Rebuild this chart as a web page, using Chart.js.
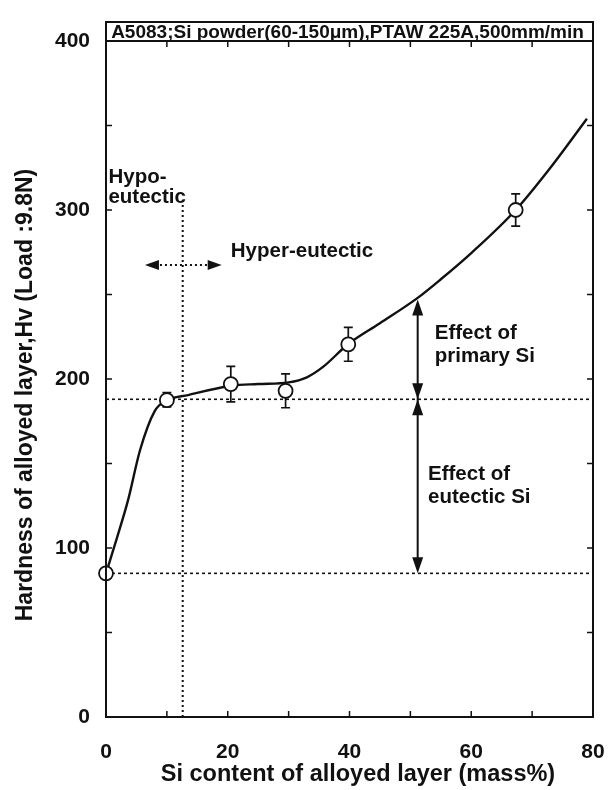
<!DOCTYPE html>
<html>
<head>
<meta charset="utf-8">
<script src="https://cdn.jsdelivr.net/npm/chart.js@4.4.1/dist/chart.umd.min.js"></script>
<style>
  html, body { margin: 0; padding: 0; background: #ffffff; }
  #wrap { width: 612px; height: 790px; position: relative; }
</style>
</head>
<body>
<div id="wrap"><canvas id="c" width="612" height="790"></canvas></div>
<script>
// ---- data ----
const siContent = [0, 10, 20.5, 29.5, 39.8, 67.3];          // mass%
const hardness  = [85, 187.5, 197, 193, 220.5, 300];        // Hv
const errPlus   = [0, 4.5, 10.5, 10, 10, 9.5];
const errMinus  = [0, 4, 10.5, 10, 10, 9.5];

const curveSi = [0, 1.8, 3.6, 5.6, 8, 9.8, 13.5, 20.6, 25, 30, 33, 35.6, 39.8, 45, 51.2, 55, 60, 67.3, 73, 79];
const curveHv = [85, 106, 128, 158, 181, 187, 190.5, 196, 197, 198, 201, 207, 220.7, 233, 248, 259, 274.5, 300, 325, 354];

const xTickLabels = [0, 20, 40, 60, 80];
const yTickLabels = [0, 100, 200, 300, 400];

const chartTitle = 'A5083;Si powder(60-150\u03BCm),PTAW 225A,500mm/min';
const xTitle = 'Si content of alloyed layer (mass%)';
const yTitle = 'Hardness of alloyed layer,Hv (Load :9.8N)';

// reference levels / annotation anchors (data units)
const eutecticSi = 12.6, eutecticLineTop = 305;
const baseHv = 85, eutecticHv = 188;
const effectArrowSi = 51.2, effectArrowTop = 247;
const hyperArrowHv = 267.5, hyperArrowFrom = 6.4, hyperArrowTo = 19;

const annotations = [
  { text: 'Hypo-',          si: 0.4,  hv: 316 },
  { text: 'eutectic',       si: 0.4,  hv: 304 },
  { text: 'Hyper-eutectic', si: 20.5, hv: 272 },
  { text: 'Effect of',      si: 54,   hv: 223.7 },
  { text: 'primary Si',     si: 54,   hv: 210 },
  { text: 'Effect of',      si: 52.9, hv: 140.2 },
  { text: 'eutectic Si',    si: 52.9, hv: 126.8 }
];

const FONT = '"Liberation Sans", Arial, Helvetica, sans-serif';

function arrowHead(ctx, tx, ty, dx, dy, len, hw) {
  const px = -dy, py = dx;
  ctx.beginPath();
  ctx.moveTo(tx, ty);
  ctx.lineTo(tx - dx * len + px * hw, ty - dy * len + py * hw);
  ctx.lineTo(tx - dx * len - px * hw, ty - dy * len - py * hw);
  ctx.closePath();
  ctx.fill();
}

const decorPlugin = {
  id: 'decor',
  beforeDatasetsDraw(chart) {
    const { ctx, scales: { x, y } } = chart;
    const X = v => x.getPixelForValue(v), Y = v => y.getPixelForValue(v);
    ctx.save();
    ctx.strokeStyle = '#111';
    ctx.lineWidth = 1.6;
    ctx.setLineDash([3, 3]);
    [baseHv, eutecticHv].forEach(h => {
      ctx.beginPath();
      ctx.moveTo(X(0), Y(h));
      ctx.lineTo(X(80), Y(h));
      ctx.stroke();
    });
    ctx.lineWidth = 2;
    ctx.setLineDash([2, 3]);
    ctx.beginPath();
    ctx.moveTo(X(eutecticSi), Y(0));
    ctx.lineTo(X(eutecticSi), Y(eutecticLineTop));
    ctx.stroke();
    ctx.beginPath();
    ctx.moveTo(X(hyperArrowFrom) + 10, Y(hyperArrowHv));
    ctx.lineTo(X(hyperArrowTo) - 10, Y(hyperArrowHv));
    ctx.stroke();
    ctx.setLineDash([]);
    ctx.lineWidth = 1.7;
    siContent.forEach((s, i) => {
      if (!errPlus[i] && !errMinus[i]) return;
      const cx = X(s), t = Y(hardness[i] + errPlus[i]), b = Y(hardness[i] - errMinus[i]);
      ctx.beginPath();
      ctx.moveTo(cx, t); ctx.lineTo(cx, b);
      ctx.moveTo(cx - 4.5, t); ctx.lineTo(cx + 4.5, t);
      ctx.moveTo(cx - 4.5, b); ctx.lineTo(cx + 4.5, b);
      ctx.stroke();
    });
    ctx.restore();
  },
  afterDraw(chart) {
    const { ctx, chartArea: ca, scales: { x, y } } = chart;
    const X = v => x.getPixelForValue(v), Y = v => y.getPixelForValue(v);
    ctx.save();
    ctx.strokeStyle = '#111';
    ctx.fillStyle = '#111';
    ctx.lineWidth = 2;
    ctx.strokeRect(ca.left, ca.top, ca.right - ca.left, ca.bottom - ca.top);
    const boxTop = 22;
    ctx.strokeRect(ca.left, boxTop, ca.right - ca.left, ca.top - boxTop);
    ctx.font = 'bold 19px ' + FONT;
    ctx.textAlign = 'center';
    ctx.textBaseline = 'middle';
    ctx.fillText(chartTitle, (ca.left + ca.right) / 2 - 2, (boxTop + ca.top) / 2 + 1);
    // axis titles
    ctx.font = 'bold 23.5px ' + FONT;
    ctx.textBaseline = 'alphabetic';
    ctx.fillText(xTitle, 358, 781);
    ctx.save();
    ctx.translate(32, 395);
    ctx.rotate(-Math.PI / 2);
    ctx.font = 'bold 23px ' + FONT;
    ctx.fillText(yTitle, 0, 0);
    ctx.restore();
    // inward ticks
    ctx.lineWidth = 1.5;
    x.ticks.forEach(t => {
      const px = X(t.value);
      if (t.value <= 0 || t.value >= 80) return;
      ctx.beginPath();
      ctx.moveTo(px, ca.bottom); ctx.lineTo(px, ca.bottom - 6);
      ctx.moveTo(px, ca.top); ctx.lineTo(px, ca.top + 6);
      ctx.stroke();
    });
    y.ticks.forEach(t => {
      const py = Y(t.value);
      if (t.value <= 0 || t.value >= 400) return;
      ctx.beginPath();
      ctx.moveTo(ca.left, py); ctx.lineTo(ca.left + 6, py);
      ctx.moveTo(ca.right, py); ctx.lineTo(ca.right - 6, py);
      ctx.stroke();
    });
    arrowHead(ctx, X(hyperArrowFrom), Y(hyperArrowHv), -1, 0, 14, 5);
    arrowHead(ctx, X(hyperArrowTo), Y(hyperArrowHv), 1, 0, 14, 5);
    ctx.lineWidth = 2;
    const ax = X(effectArrowSi);
    ctx.beginPath();
    ctx.moveTo(ax, Y(effectArrowTop) + 4); ctx.lineTo(ax, Y(baseHv) - 4);
    ctx.stroke();
    arrowHead(ctx, ax, Y(effectArrowTop), 0, -1, 16, 5.5);
    arrowHead(ctx, ax, Y(eutecticHv), 0, 1, 16, 5.5);
    arrowHead(ctx, ax, Y(eutecticHv), 0, -1, 16, 5.5);
    arrowHead(ctx, ax, Y(baseHv), 0, 1, 16, 5.5);
    ctx.font = 'bold 20.5px ' + FONT;
    ctx.textAlign = 'left';
    ctx.textBaseline = 'alphabetic';
    annotations.forEach(a => ctx.fillText(a.text, X(a.si), Y(a.hv)));
    ctx.restore();
  }
};

const chart = new Chart(document.getElementById('c'), {
  type: 'scatter',
  data: {
    datasets: [
      {
        label: 'Measured',
        data: siContent.map((s, i) => ({ x: s, y: hardness[i] })),
        showLine: false,
        pointRadius: 7,
        pointHoverRadius: 7,
        pointBackgroundColor: '#ffffff',
        pointBorderColor: '#111',
        pointBorderWidth: 1.8,
        clip: false,
        order: 0
      },
      {
        label: 'Trend',
        data: curveSi.map((s, i) => ({ x: s, y: curveHv[i] })),
        showLine: true,
        pointRadius: 0,
        borderColor: '#111',
        borderWidth: 2.4,
        cubicInterpolationMode: 'monotone',
        fill: false,
        order: 1
      }
    ]
  },
  options: {
    responsive: false,
    animation: false,
    events: [],
    layout: { padding: { top: 41, right: 19, left: 0, bottom: 0 } },
    plugins: { legend: { display: false }, tooltip: { enabled: false }, title: { display: false } },
    scales: {
      x: {
        type: 'linear', min: 0, max: 80,
        grid: { display: false, drawTicks: false },
        border: { display: false },
        ticks: {
          stepSize: 10, autoSkip: false, maxRotation: 0, minRotation: 0, padding: 23,
          color: '#111', font: { family: FONT, size: 21, weight: 'bold' },
          callback: v => xTickLabels.includes(v) ? String(v) : ''
        },
        title: { display: false },
        afterFit: s => { s.height = 73; s.paddingLeft = 0; s.paddingRight = 0; }
      },
      y: {
        type: 'linear', min: 0, max: 400,
        grid: { display: false, drawTicks: false },
        border: { display: false },
        ticks: {
          stepSize: 50, autoSkip: false, padding: 16,
          color: '#111', font: { family: FONT, size: 21, weight: 'bold' },
          callback: v => yTickLabels.includes(v) ? String(v) : ''
        },
        title: { display: false },
        afterFit: s => { s.width = 106; s.paddingTop = 0; s.paddingBottom = 0; }
      }
    }
  },
  plugins: [decorPlugin]
});
</script>
</body>
</html>
